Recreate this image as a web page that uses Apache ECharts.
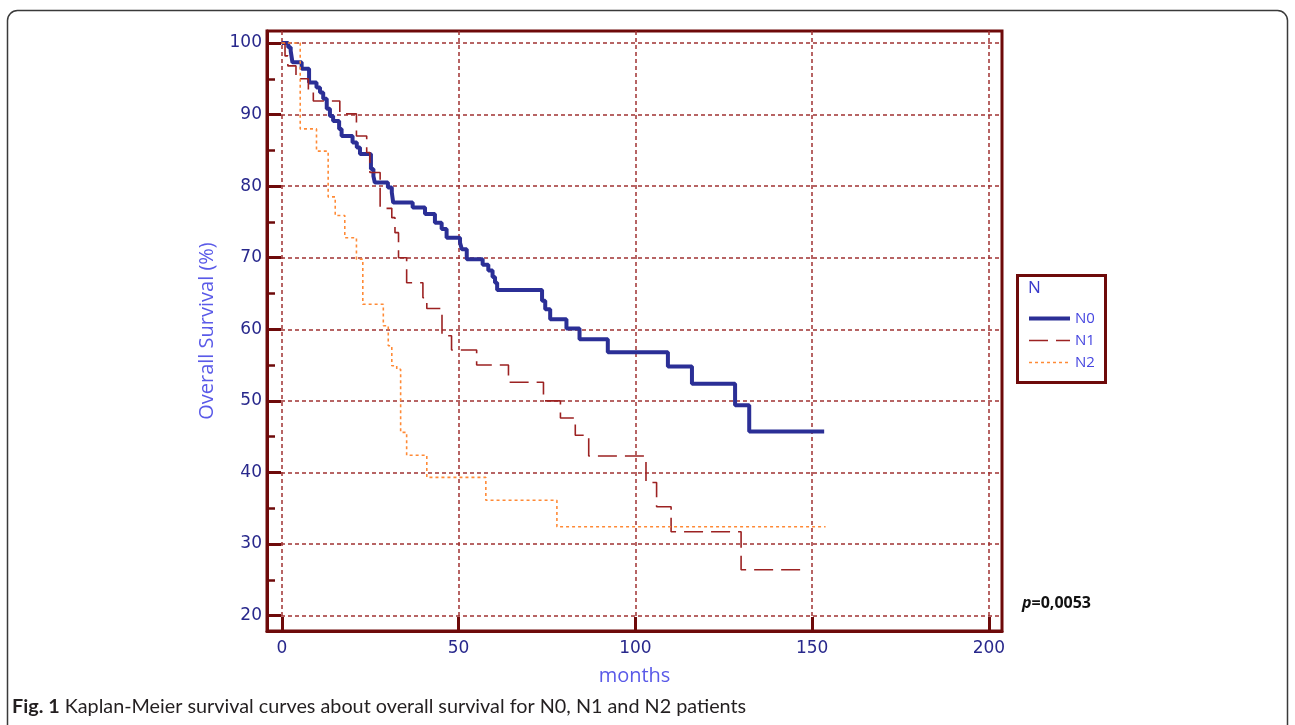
<!DOCTYPE html>
<html>
<head>
<meta charset="utf-8">
<script src="https://cdn.jsdelivr.net/npm/echarts@6/dist/echarts.min.js"></script>
<style>
  html, body { margin: 0; padding: 0; background: #ffffff; }
  #chart { width: 1295px; height: 725px; }
</style>
</head>
<body>
<div id="chart"></div>
<script>
// Axis ticks
const xTicks = [0, 50, 100, 150, 200];
const yTicks = [20, 30, 40, 50, 60, 70, 80, 90, 100];
const yMinorTicks = [25, 35, 45, 55, 65, 75, 85, 95];

// Kaplan-Meier steps: month of each event and survival (%) after it
const n0Months = [0, 1.8, 2.5, 3.0, 5.6, 7.7, 9.8, 10.8, 11.7, 12.7, 13.6, 14.5, 16.2, 16.9, 20.0, 21.2, 22.1, 25.2, 25.9, 26.3, 30.0, 31.1, 31.5, 37.0, 40.5, 43.3, 45.2, 46.6, 50.4, 50.9, 52.3, 56.8, 58.4, 59.6, 60.3, 60.9, 73.6, 74.5, 75.9, 80.5, 84.2, 92.2, 109.2, 116.0, 128.2, 132.2, 153.4];
const n0Survival = [100, 99.4, 98.9, 97.3, 96.4, 94.5, 93.8, 93.1, 92.2, 90.8, 89.8, 89.1, 88.0, 87.0, 86.1, 85.4, 84.5, 82.4, 81.4, 80.5, 79.8, 79.1, 77.7, 77.0, 76.1, 74.9, 74.0, 72.8, 72.1, 71.2, 69.8, 69.0, 68.2, 67.3, 66.5, 65.5, 64.0, 62.8, 61.4, 60.1, 58.6, 56.8, 54.8, 52.4, 49.4, 45.7, 45.7];

const n1Months = [0, 0.9, 1.7, 4.0, 7.5, 8.9, 16.4, 21.1, 24.0, 24.9, 27.8, 31.1, 32.0, 33.0, 35.3, 39.9, 41.0, 45.3, 48.0, 55.1, 64.1, 74.0, 78.8, 83.0, 86.8, 103.0, 106.0, 110.1, 129.9, 146.7];
const n1Survival = [100, 98.2, 96.8, 95.0, 93.3, 91.9, 90.1, 87.0, 84.7, 81.9, 76.9, 75.6, 73.5, 70.0, 66.5, 64.4, 62.9, 59.1, 57.1, 55.0, 52.6, 50.0, 47.6, 45.2, 42.3, 38.6, 35.2, 31.7, 26.4, 26.4];

const n2Months = [0, 5.2, 9.8, 13.1, 15.1, 17.8, 21.1, 22.9, 28.7, 30.1, 31.1, 32.5, 33.6, 35.3, 41.0, 57.7, 77.8, 153.8];
const n2Survival = [100, 88.0, 84.9, 78.5, 75.9, 72.8, 69.8, 63.5, 60.5, 57.7, 54.9, 54.4, 45.6, 42.4, 39.3, 36.1, 32.4, 32.4];

const seriesNames = ['N0', 'N1', 'N2'];
const pValueText = '=0,0053';
const captionLead = 'Fig. 1';
const captionBody = ' Kaplan-Meier survival curves about overall survival for N0, N1 and N2 patients';

const pairs = (xs, ys) => xs.map((x, i) => [x, ys[i]]);

const frameColor = '#6e0a0a';
const gridColor = '#a03232';
const tickLabelColor = '#28288c';
const nameColor = '#5a5ae8';
const lineWidths = [4, 1.6, 1.6];

const chart = echarts.init(document.getElementById('chart'), null, { renderer: 'canvas' });

chart.setOption({
  animation: false,
  backgroundColor: '#ffffff',
  grid: {
    left: 267, right: 293, top: 31, bottom: 94,
    show: true, borderColor: frameColor, borderWidth: 3, backgroundColor: 'transparent'
  },
  xAxis: {
    type: 'value', min: -4.2, max: 203.7,
    name: 'months', nameLocation: 'middle', nameGap: 35,
    nameTextStyle: { color: nameColor, fontSize: 20, fontFamily: 'Open Sans' },
    axisLine: { show: true, onZero: false, lineStyle: { color: frameColor, width: 3 } },
    axisTick: { show: true, inside: true, length: 14, customValues: xTicks,
                lineStyle: { color: frameColor, width: 3 } },
    axisLabel: { customValues: xTicks, margin: 9, color: tickLabelColor,
                 fontSize: 17, fontFamily: 'DejaVu Sans' },
    splitLine: { show: true, lineStyle: { color: gridColor, width: 1.5, type: [4, 3] } }
  },
  yAxis: [
    {
      type: 'value', min: 17.84, max: 101.68, position: 'left',
      name: 'Overall Survival (%)', nameLocation: 'middle', nameGap: 50,
      nameTextStyle: { color: nameColor, fontSize: 20, fontFamily: 'Open Sans' },
      axisLine: { show: true, onZero: false, lineStyle: { color: frameColor, width: 3 } },
      axisTick: { show: true, inside: true, length: 14, customValues: yTicks,
                  lineStyle: { color: frameColor, width: 3 } },
      axisLabel: { customValues: yTicks, margin: 5, color: tickLabelColor,
                   fontSize: 17, fontFamily: 'DejaVu Sans' },
      splitLine: { show: true, lineStyle: { color: gridColor, width: 1.5, type: [4, 3] } }
    },
    {
      // minor ticks at the half-decades
      type: 'value', min: 17.84, max: 101.68, position: 'left',
      axisLine: { show: false, onZero: false },
      axisTick: { show: true, inside: true, length: 8, customValues: yMinorTicks,
                  lineStyle: { color: frameColor, width: 2.5 } },
      axisLabel: { show: false },
      splitLine: { show: false }
    }
  ],
  legend: {
    data: seriesNames.map((name, i) => ({ name, lineStyle: { width: lineWidths[i] } })),
    orient: 'vertical',
    left: 1027, top: 311,
    padding: 0,
    itemWidth: 41, itemHeight: 14, itemGap: 7,
    itemStyle: { opacity: 0 },
    textStyle: { color: '#4646e0', fontSize: 15, fontFamily: 'Open Sans' }
  },
  series: [
    {
      name: seriesNames[0], type: 'line', step: 'end', yAxisIndex: 0,
      showSymbol: false, symbol: 'none', z: 3,
      lineStyle: { color: '#2b2f96', width: lineWidths[0] },
      itemStyle: { color: '#2b2f96' },
      data: pairs(n0Months, n0Survival)
    },
    {
      name: seriesNames[1], type: 'line', step: 'end', yAxisIndex: 0,
      showSymbol: false, symbol: 'none', z: 4,
      lineStyle: { color: '#9c2222', width: lineWidths[1], type: [19, 8] },
      itemStyle: { color: '#9c2222' },
      data: pairs(n1Months, n1Survival)
    },
    {
      name: seriesNames[2], type: 'line', step: 'end', yAxisIndex: 0,
      showSymbol: false, symbol: 'none', z: 5,
      lineStyle: { color: '#ff8a36', width: lineWidths[2], type: [3, 3] },
      itemStyle: { color: '#ff8a36' },
      data: pairs(n2Months, n2Survival)
    }
  ],
  graphic: [
    {
      // outer panel border
      type: 'rect', z: -10, silent: true,
      shape: { x: 7.5, y: 10.5, width: 1280, height: 740, r: 10 },
      style: { fill: 'none', stroke: '#3a3a3a', lineWidth: 1.5 }
    },
    {
      // legend frame
      type: 'rect', z: -5, silent: true,
      shape: { x: 1017.5, y: 275.5, width: 88, height: 107 },
      style: { fill: '#ffffff', stroke: frameColor, lineWidth: 3 }
    },
    {
      type: 'text', left: 1028, top: 280, silent: true,
      style: { text: 'N', fill: '#3a3acb', fontSize: 17, fontFamily: 'Open Sans' }
    },
    {
      type: 'text', left: 1022, top: 595, silent: true,
      style: {
        text: '{i|p}{b|' + pValueText + '}',
        rich: {
          i: { fontSize: 16, fontStyle: 'italic', fontWeight: 'bold', fill: '#111111', fontFamily: 'Open Sans' },
          b: { fontSize: 16, fontWeight: 'bold', fill: '#111111', fontFamily: 'Open Sans' }
        }
      }
    },
    {
      type: 'text', left: 12, top: 697, silent: true,
      style: {
        text: '{b|' + captionLead + '}{n|' + captionBody + '}',
        rich: {
          b: { fontSize: 19.8, fontWeight: 'bold', fill: '#231f20', fontFamily: 'Lato' },
          n: { fontSize: 19.8, fill: '#231f20', fontFamily: 'Lato' }
        }
      }
    }
  ]
});
</script>
</body>
</html>
